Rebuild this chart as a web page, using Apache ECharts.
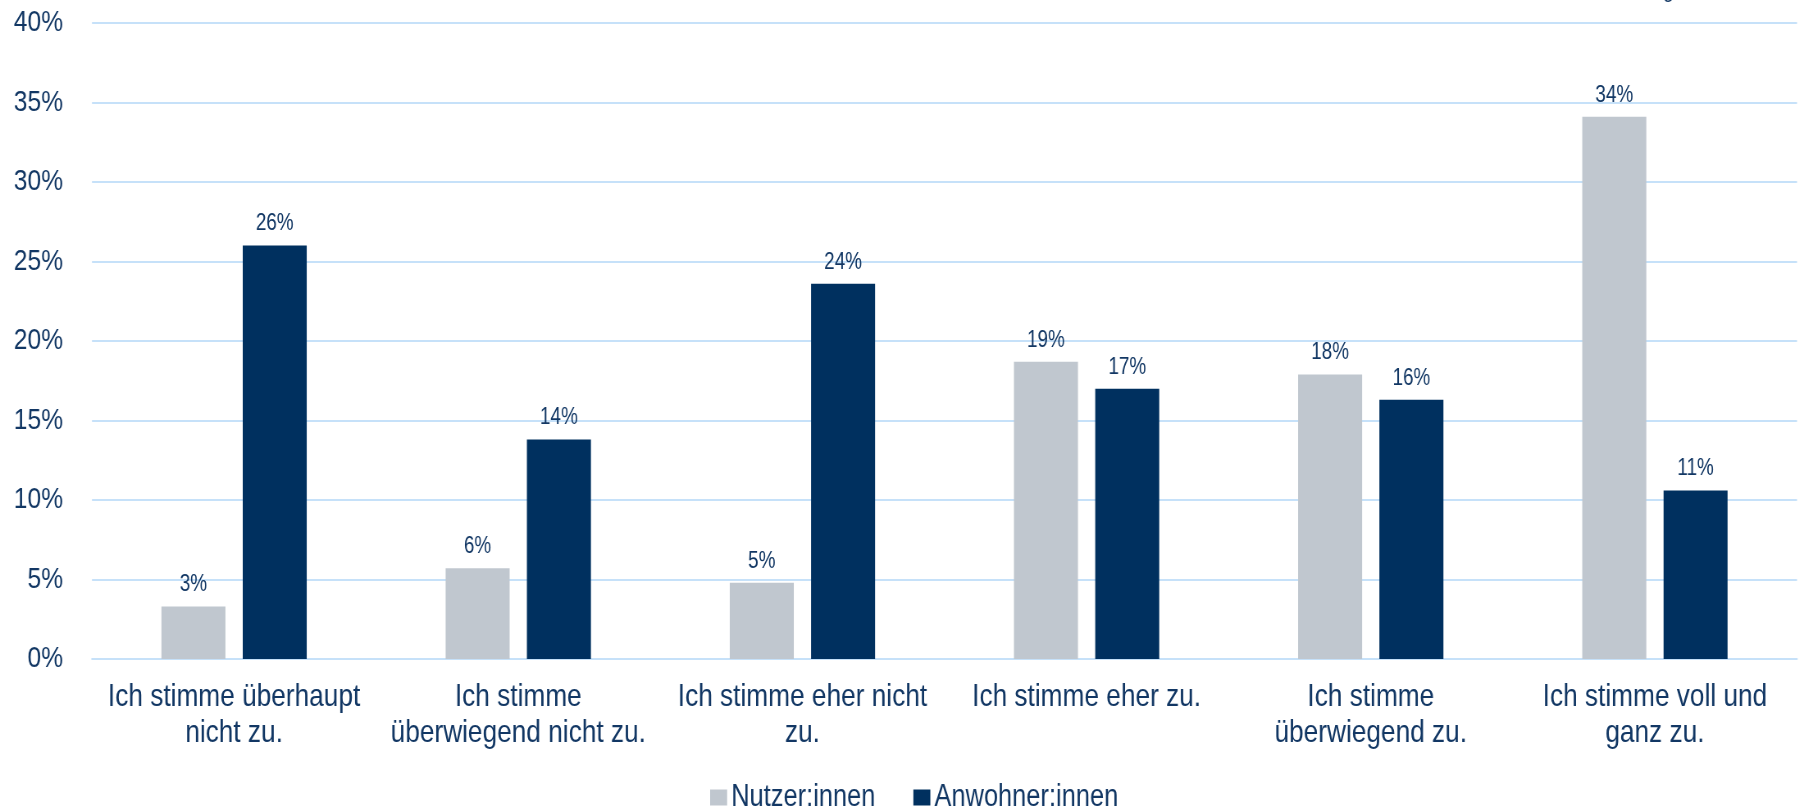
<!DOCTYPE html>
<html>
<head>
<meta charset="utf-8">
<script src="https://cdn.jsdelivr.net/npm/echarts@6/dist/echarts.min.js"></script>
<style>
html,body{margin:0;padding:0;background:#fff;overflow:hidden;width:1804px;height:809px;}
#chart{width:2200px;height:809px;transform:scaleX(0.82);transform-origin:0 0;}
</style>
</head>
<body>
<div id="chart"></div>
<script>
const categories = [
  "Ich stimme überhaupt\nnicht zu.",
  "Ich stimme\nüberwiegend nicht zu.",
  "Ich stimme eher nicht\nzu.",
  "Ich stimme eher zu.",
  "Ich stimme\nüberwiegend zu.",
  "Ich stimme voll und\nganz zu."
];
const seriesNames = ["Nutzer:innen", "Anwohner:innen"];
const nutzer = [3.3, 5.7, 4.8, 18.7, 17.9, 34.1];
const anwohner = [26.0, 13.8, 23.6, 17.0, 16.3, 10.6];
const yTicks = [0, 5, 10, 15, 20, 25, 30, 35, 40];

// the page is drawn on a wider canvas and squeezed horizontally (CSS scaleX 0.82)
// so that the sans-serif text gets the narrow look of the original
const S = 0.82;
const FONT = "'Liberation Sans', Arial, sans-serif";
const TEXT = '#123764';
const GRID = '#C6E1F9';

const chart = echarts.init(document.getElementById('chart'), null, {renderer: 'canvas'});
const labelCfg = {
  show: true, position: 'top', distance: 10,
  color: TEXT, fontFamily: FONT, fontSize: 23,
  formatter: p => Math.round(p.value) + '%'
};
chart.setOption({
  animation: false,
  backgroundColor: '#fff',
  textStyle: {fontFamily: FONT},
  grid: {left: 92 / S, right: 7 / S, top: 23, bottom: 150, containLabel: false},
  legend: {
    data: seriesNames, top: 777, left: 861,
    itemWidth: 17 / S, itemHeight: 16, itemGap: 38 / S,
    icon: 'rect',
    textStyle: {color: TEXT, fontFamily: FONT, fontSize: 31}
  },
  graphic: [{
    type: 'text', right: 130 / S, top: -22,
    style: {text: 'g', fill: TEXT, font: "24px " + FONT}
  }],
  xAxis: {
    type: 'category', data: categories,
    axisLine: {show: true, lineStyle: {color: GRID, width: 2}},
    axisTick: {show: false},
    axisLabel: {color: TEXT, fontFamily: FONT, fontSize: 32, lineHeight: 36, margin: 20, interval: 0}
  },
  yAxis: {
    type: 'value', min: yTicks[0], max: yTicks[yTicks.length - 1], interval: 5,
    axisLine: {show: false}, axisTick: {show: false},
    splitLine: {lineStyle: {color: GRID, width: 2}},
    axisLabel: {color: TEXT, fontFamily: FONT, fontSize: 30, margin: 29 / S, formatter: v => v + '%'}
  },
  series: [
    {name: seriesNames[0], type: 'bar', data: nutzer, barWidth: 64 / S, barGap: '27%',
     itemStyle: {color: '#C0C7CF'}, label: labelCfg},
    {name: seriesNames[1], type: 'bar', data: anwohner, barWidth: 64 / S,
     itemStyle: {color: '#00305F'}, label: labelCfg}
  ]
});
</script>
</body>
</html>
